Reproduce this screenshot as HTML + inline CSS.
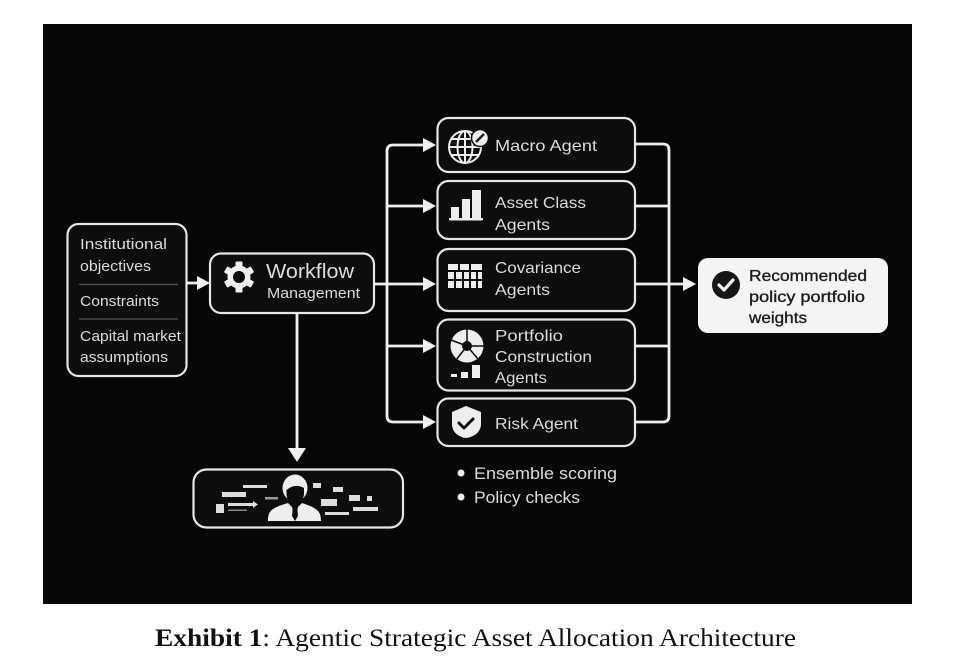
<!DOCTYPE html>
<html><head><meta charset="utf-8"><style>
html,body{margin:0;padding:0;background:#fff;width:956px;height:670px;overflow:hidden}
svg{display:block}
.t{font-family:"Liberation Sans",sans-serif;fill:#dcdcdc;font-size:15px}
</style></head><body>
<svg width="956" height="670" viewBox="0 0 956 670" xmlns="http://www.w3.org/2000/svg">
<rect x="0" y="0" width="956" height="670" fill="#fff"/>
<rect x="43" y="24" width="869" height="580" fill="#060606"/>
<defs><filter id="b" x="-5%" y="-5%" width="110%" height="110%"><feGaussianBlur stdDeviation="0.35"/></filter></defs>
<g filter="url(#b)">
<!-- boxes -->
<g fill="#090909" stroke="#e6e6e6" stroke-width="2.2">
<rect x="67.5" y="224" width="119" height="152" rx="11"/>
<rect x="210" y="253.500" width="164" height="59.500" rx="11"/>
<rect x="437.500" y="118" width="197.500" height="54" rx="11"/>
<rect x="437.500" y="181" width="197.500" height="58" rx="11"/>
<rect x="437.500" y="249" width="197.500" height="62" rx="11"/>
<rect x="437.500" y="319.500" width="197.500" height="71" rx="11"/>
<rect x="437.500" y="398.500" width="197.500" height="47.500" rx="11"/>
<rect x="193.500" y="469.500" width="209.500" height="58" rx="13"/>
</g>
<rect x="698" y="258" width="190" height="75" rx="10" fill="#f4f4f4"/>
<line x1="79" y1="284.500" x2="178" y2="284.500" stroke="#555" stroke-width="1.300"/>
<line x1="79" y1="319" x2="178" y2="319" stroke="#555" stroke-width="1.300"/>
<!-- connectors -->
<g fill="none" stroke="#eee" stroke-width="2.800">
<path d="M187 283H198"/>
<path d="M297 313V449"/>
<path d="M374 284H425"/>
<path d="M425 145H393Q387 145 387 151V416Q387 422 393 422H425"/>
<path d="M387 206H425M387 346H425"/>
<path d="M635 144H663Q669 144 669 150V416Q669 422 663 422H635"/>
<path d="M635 206H669M635 346H669"/>
<path d="M635 284H685"/>
</g>
<g fill="#f0f0f0">
<path d="M197 276L210 283L197 290Z"/>
<path d="M288 448H306L297 462Z"/>
<path d="M423 138L436 145L423 152Z"/>
<path d="M423 199L436 206L423 213Z"/>
<path d="M423 277L436 284L423 291Z"/>
<path d="M423 339L436 346L423 353Z"/>
<path d="M423 415L436 422L423 429Z"/>
<path d="M683 277L696 284L683 291Z"/>
</g>
<!-- left text -->
<g class="t">
<text x="80" y="249" textLength="87" lengthAdjust="spacingAndGlyphs">Institutional</text>
<text x="80" y="271" textLength="71" lengthAdjust="spacingAndGlyphs">objectives</text>
<text x="80" y="306" textLength="79" lengthAdjust="spacingAndGlyphs">Constraints</text>
<text x="80" y="341" textLength="101" lengthAdjust="spacingAndGlyphs">Capital market</text>
<text x="80" y="362" textLength="88" lengthAdjust="spacingAndGlyphs">assumptions</text>
<text x="266" y="278" style="font-size:20px" textLength="88" lengthAdjust="spacingAndGlyphs">Workflow</text>
<text x="267" y="298" textLength="93" lengthAdjust="spacingAndGlyphs">Management</text>
<g style="font-size:16px">
<text x="495" y="151" textLength="102" lengthAdjust="spacingAndGlyphs">Macro Agent</text>
<text x="495" y="208" textLength="91" lengthAdjust="spacingAndGlyphs">Asset Class</text>
<text x="495" y="230" textLength="55" lengthAdjust="spacingAndGlyphs">Agents</text>
<text x="495" y="273" textLength="86" lengthAdjust="spacingAndGlyphs">Covariance</text>
<text x="495" y="295" textLength="55" lengthAdjust="spacingAndGlyphs">Agents</text>
<text x="495" y="341" textLength="68" lengthAdjust="spacingAndGlyphs">Portfolio</text>
<text x="495" y="362" textLength="97" lengthAdjust="spacingAndGlyphs">Construction</text>
<text x="495" y="383" textLength="52" lengthAdjust="spacingAndGlyphs">Agents</text>
<text x="495" y="429" textLength="83" lengthAdjust="spacingAndGlyphs">Risk Agent</text>
</g>
<g style="font-size:17px">
<text x="474" y="479" textLength="143" lengthAdjust="spacingAndGlyphs">Ensemble scoring</text>
<text x="474" y="503" textLength="106" lengthAdjust="spacingAndGlyphs">Policy checks</text>
</g>
</g>
<circle cx="461" cy="473" r="3.500" fill="#eee"/>
<circle cx="461" cy="497" r="3.500" fill="#eee"/>
<g class="t" style="font-size:16px;fill:#1c1c1c;stroke:#1c1c1c;stroke-width:.35">
<text x="749" y="281" textLength="118" lengthAdjust="spacingAndGlyphs">Recommended</text>
<text x="749" y="302" textLength="116" lengthAdjust="spacingAndGlyphs">policy portfolio</text>
<text x="749" y="323" textLength="58" lengthAdjust="spacingAndGlyphs">weights</text>
</g>
<!-- check circle -->
<circle cx="726" cy="285" r="14" fill="#141414"/>
<path d="M719 285L724 290L733 280" fill="none" stroke="#f4f4f4" stroke-width="3.200" stroke-linecap="round" stroke-linejoin="round"/>
<!-- gear -->
<g transform="translate(239 277)">
<g fill="#f0f0f0">
<rect x="-3.500" y="-15.500" width="7" height="31" rx="1"/>
<rect x="-3.500" y="-15.500" width="7" height="31" rx="1" transform="rotate(60)"/>
<rect x="-3.500" y="-15.500" width="7" height="31" rx="1" transform="rotate(120)"/>
<circle r="11.500"/>
</g>
<circle r="6" fill="#090909"/>
</g>
<!-- globe -->
<g fill="none" stroke="#eee" stroke-width="2">
<circle cx="465" cy="147" r="16"/>
<ellipse cx="465" cy="147" rx="7.500" ry="16"/>
<path d="M465 131V163M449 147H481M451 139H479M451 155H479"/>
</g>
<circle cx="480" cy="138" r="8.500" fill="#eee" stroke="#090909" stroke-width="1.500"/>
<path d="M476 142L484 134" stroke="#222" stroke-width="2.500"/>
<!-- bars -->
<g fill="#eee">
<rect x="451" y="207" width="8" height="11"/>
<rect x="462" y="199" width="8" height="19"/>
<rect x="472" y="190" width="9" height="28"/>
<rect x="449" y="218" width="34" height="2.500"/>
</g>
<!-- grid -->
<g fill="#eee">
<rect x="448" y="264" width="10" height="6"/><rect x="460" y="264" width="9" height="6"/><rect x="471" y="264" width="11" height="6"/>
<rect x="448" y="272" width="6" height="7"/><rect x="456" y="272" width="6" height="7"/><rect x="464" y="272" width="5" height="7"/><rect x="471" y="272" width="5" height="7"/><rect x="478" y="272" width="4" height="7"/>
<rect x="448" y="281" width="6" height="7"/><rect x="456" y="281" width="6" height="7"/><rect x="464" y="281" width="5" height="7"/><rect x="471" y="281" width="5" height="7"/><rect x="478" y="281" width="4" height="7"/>
</g>
<!-- pie -->
<circle cx="467" cy="346" r="16.500" fill="#eee"/>
<g stroke="#090909" stroke-width="1.500">
<path d="M467 346V329M467 346L484 346M467 346L478 359M467 346L456 360M467 346L451 340"/>
</g>
<circle cx="467" cy="346" r="5" fill="#090909"/>
<g fill="#eee">
<rect x="451" y="374" width="6" height="3"/><rect x="461" y="372" width="7" height="6"/><rect x="472" y="365" width="8" height="13"/>
</g>
<!-- shield -->
<path d="M466 406L481 412V424C481 432 474 437 466 438C458 437 452 432 452 424V412Z" fill="#eee"/>
<path d="M459 423L464 428L473 419" fill="none" stroke="#111" stroke-width="3" stroke-linecap="round" stroke-linejoin="round"/>
<!-- person -->
<g fill="#eee">
<path d="M268 521C268 510 272 508 288 503L292 507L295 521L298 507L302 503C316 508 321 510 321 521Z"/>
<ellipse cx="295" cy="488" rx="12.500" ry="13.500"/>
</g>
<path d="M286.500 490Q295 483 304 488V494Q303 503 295 505Q287 503 286.500 494Z" fill="#090909"/>
<path d="M293 505H297L298 516L295 521L292 516Z" fill="#090909"/>
<g fill="#ddd">
<rect x="243" y="485" width="24" height="3"/>
<rect x="222" y="492" width="24" height="5"/>
<rect x="265" y="497" width="13" height="2.500" fill="#999"/>
<rect x="216" y="504" width="8" height="9"/>
<rect x="228" y="503" width="25" height="3"/>
<path d="M253 501L258 504.500L253 508Z"/>
<rect x="228" y="509.500" width="19" height="1.500" fill="#888"/>
<rect x="313" y="483" width="8" height="5"/>
<rect x="333" y="487" width="10" height="5"/>
<rect x="349" y="495" width="11" height="6"/>
<rect x="367" y="496" width="5" height="5"/>
<rect x="321" y="499" width="16" height="7"/>
<rect x="353" y="507" width="25" height="4"/>
<rect x="325" y="512" width="24" height="3"/>
</g>
</g>
<!-- caption -->
<text x="155" y="646" font-family="'Liberation Serif',serif" font-size="25" fill="#111" textLength="641" lengthAdjust="spacingAndGlyphs"><tspan font-weight="bold">Exhibit 1</tspan>: Agentic Strategic Asset Allocation Architecture</text>
</svg>
</body></html>
